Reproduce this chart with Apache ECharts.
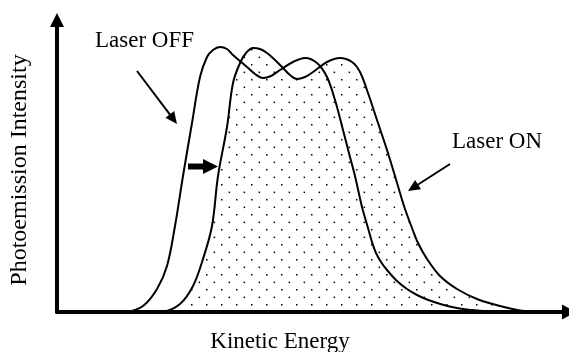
<!DOCTYPE html>
<html>
<head>
<meta charset="utf-8">
<script src="https://cdn.jsdelivr.net/npm/echarts@6/dist/echarts.min.js"></script>
<style>
html,body{margin:0;padding:0;background:#fff;}
#chart{width:569px;height:352px;}
</style>
</head>
<body>
<div id="chart"></div>
<script>
// Kinetic energy (arbitrary units) and photoemission intensity (arbitrary units)
const offEnergy = [0, 53, 70, 86, 100, 110, 118, 126, 135, 143, 150, 156, 163, 170, 176, 183, 190, 198, 206, 214, 223, 236, 248, 260, 270, 278, 286, 293, 298, 305, 311, 315, 319, 324, 330, 340, 350, 360, 370, 385, 400, 415, 430, 450, 512];
const offIntensity = [0, 0, 0.5, 6, 23, 46, 86, 136, 189, 235, 255, 262, 265, 263, 257, 251, 245, 238, 234, 236, 242, 250, 254, 249, 235, 212, 182, 155, 136, 105, 84, 70, 59, 50, 42, 31, 23, 17, 12.5, 7.5, 4, 2, 0.7, 0, 0];

const onEnergy = [0, 93, 106, 123, 136, 146, 155, 161, 170, 176, 183, 189, 196, 203, 210, 218, 226, 233, 240, 248, 256, 270, 283, 295, 303, 311, 320, 330, 338, 343, 348, 355, 361, 370, 383, 400, 420, 443, 463, 483, 512];
const onIntensity = [0, 0, 0.5, 8, 26, 53, 86, 136, 185, 229, 249, 259, 264, 263, 259, 252, 244, 237, 233, 235, 240, 250, 254, 250, 240, 219, 192, 162, 136, 119, 103, 84, 69, 53, 36, 23, 13, 6, 1.5, 0, 0];

const xRange = [0, 512];
const yRange = [0, 292];

const labelOff = 'Laser OFF';
const labelOn = 'Laser ON';
const xTitle = 'Kinetic Energy';
const yTitle = 'Photoemission Intensity';

// annotation anchors in data coordinates
const offLabelAt = [38, 271];
const offArrow = [[80, 241], [120, 188]];
const onLabelAt = [395, 170];
const onArrow = [[393, 148], [351, 121]];
const shiftArrow = [[131, 145.5], [161, 145.5]];

function zip(xs, ys) { return xs.map((x, i) => [x, ys[i]]); }

// dotted fill pattern
const pat = document.createElement('canvas');
pat.width = 15; pat.height = 15;
const pc = pat.getContext('2d');
pc.fillStyle = '#000';
pc.fillRect(11, 4, 1.5, 1.5);
pc.fillRect(3.6, 11.6, 1.5, 1.5);

const FONT = '"Liberation Serif", "Times New Roman", serif';

const chart = echarts.init(document.getElementById('chart'), null, {renderer: 'canvas'});
chart.setOption({
  animation: false,
  backgroundColor: '#fff',
  grid: {left: 57, right: 0, top: 20, bottom: 40},
  xAxis: {
    type: 'value', min: xRange[0], max: xRange[1],
    axisLabel: {show: false}, axisTick: {show: false}, splitLine: {show: false},
    axisLine: {lineStyle: {color: '#000', width: 4}, symbol: ['none', 'triangle'], symbolSize: [15, 14]}
  },
  yAxis: {
    type: 'value', min: yRange[0], max: yRange[1],
    axisLabel: {show: false}, axisTick: {show: false}, splitLine: {show: false},
    axisLine: {show: true, lineStyle: {color: '#000', width: 4}, symbol: ['none', 'triangle'], symbolSize: [14, 14]}
  },
  series: [
    {
      name: labelOn, type: 'line', data: zip(onEnergy, onIntensity), smooth: 0.35,
      showSymbol: false, lineStyle: {color: '#000', width: 2},
      areaStyle: {color: {image: pat, repeat: 'repeat'}, opacity: 1}, z: 2
    },
    {
      name: labelOff, type: 'line', data: zip(offEnergy, offIntensity), smooth: 0.35,
      showSymbol: false, lineStyle: {color: '#000', width: 2}, z: 3
    }
  ]
});

function px(p) { return chart.convertToPixel({gridIndex: 0}, p); }
function head(from, to, len, hw) {
  const dx = to[0] - from[0], dy = to[1] - from[1];
  const L = Math.hypot(dx, dy); const ux = dx / L, uy = dy / L;
  const bx = to[0] - ux * len, by = to[1] - uy * len;
  return [[to[0], to[1]], [bx - uy * hw, by + ux * hw], [bx + uy * hw, by - ux * hw]];
}
function thinArrow(a) {
  const f = px(a[0]), t = px(a[1]);
  const dx = t[0] - f[0], dy = t[1] - f[1]; const L = Math.hypot(dx, dy);
  const e = [t[0] - dx / L * 6, t[1] - dy / L * 6];
  return [
    {type: 'line', shape: {x1: f[0], y1: f[1], x2: e[0], y2: e[1]}, style: {stroke: '#000', lineWidth: 2}, z: 10},
    {type: 'polygon', shape: {points: head(f, t, 12, 5.5)}, style: {fill: '#000'}, z: 10}
  ];
}
const sf = px(shiftArrow[0]), st = px(shiftArrow[1]);
const shaftEnd = [st[0] - 15, st[1]];
const els = [].concat(
  thinArrow(offArrow), thinArrow(onArrow),
  [
    {type: 'line', shape: {x1: sf[0], y1: sf[1], x2: shaftEnd[0] + 1, y2: shaftEnd[1]}, style: {stroke: '#000', lineWidth: 6}, z: 10},
    {type: 'polygon', shape: {points: [[st[0], st[1]], [shaftEnd[0], st[1] - 7.5], [shaftEnd[0], st[1] + 7.5]]}, style: {fill: '#000'}, z: 10},
    {type: 'text', x: px(offLabelAt)[0], y: px(offLabelAt)[1], style: {text: labelOff, font: '23px ' + FONT, fill: '#000', align: 'left', verticalAlign: 'middle'}, z: 10},
    {type: 'text', x: px(onLabelAt)[0], y: px(onLabelAt)[1], style: {text: labelOn, font: '23px ' + FONT, fill: '#000', align: 'left', verticalAlign: 'middle'}, z: 10},
    {type: 'text', x: 280, y: 342, style: {text: xTitle, font: '23px ' + FONT, fill: '#000', align: 'center', verticalAlign: 'middle'}, z: 10},
    {type: 'text', x: 20, y: 170, rotation: Math.PI / 2, style: {text: yTitle, font: '24px ' + FONT, fill: '#000', align: 'center', verticalAlign: 'middle'}, z: 10}
  ]
);
chart.setOption({graphic: {elements: els}});
</script>
</body>
</html>
